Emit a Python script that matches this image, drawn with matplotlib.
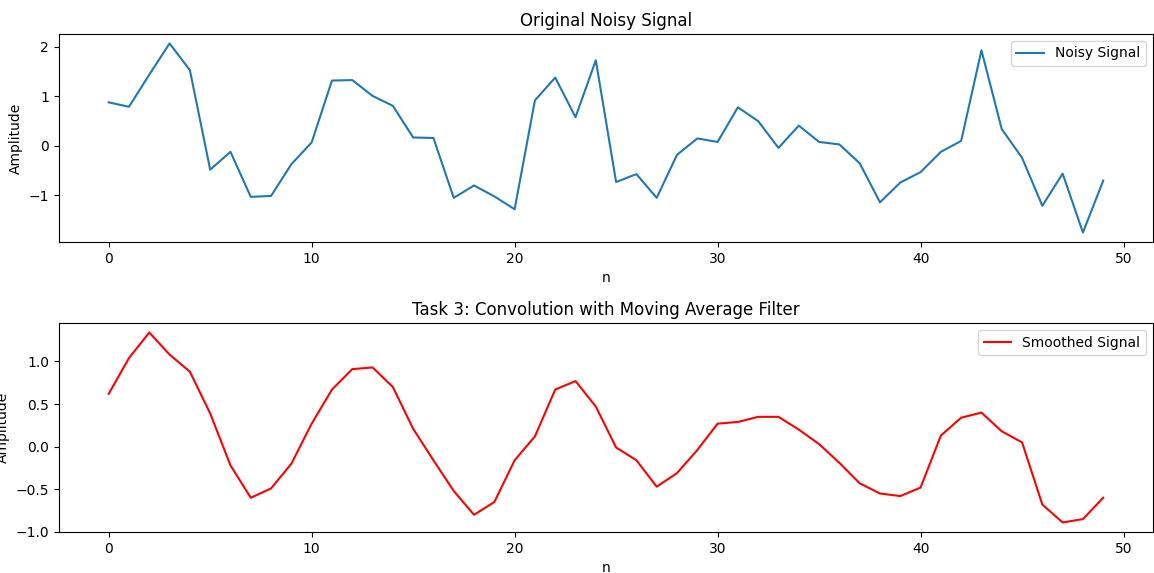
import numpy as np
import matplotlib
matplotlib.use("Agg")
import matplotlib.pyplot as plt

# ---- Data ----
noisy = [0.88, 0.79, 1.44, 2.07, 1.53, -0.48, -0.12, -1.03, -1.01, -0.37,
         0.07, 1.32, 1.33, 1.01, 0.81, 0.17, 0.16, -1.05, -0.80, -1.02,
         -1.28, 0.92, 1.38, 0.58, 1.73, -0.73, -0.57, -1.05, -0.18, 0.15,
         0.08, 0.78, 0.50, -0.04, 0.41, 0.08, 0.03, -0.35, -1.14, -0.74,
         -0.53, -0.12, 0.10, 1.93, 0.34, -0.24, -1.21, -0.56, -1.75, -0.70]

smoothed = [0.62, 1.04, 1.34, 1.08, 0.88, 0.39, -0.22, -0.60, -0.49, -0.20,
            0.27, 0.67, 0.91, 0.93, 0.70, 0.21, -0.16, -0.52, -0.80, -0.65,
            -0.16, 0.12, 0.67, 0.77, 0.47, -0.01, -0.16, -0.47, -0.31, -0.04,
            0.27, 0.29, 0.35, 0.35, 0.20, 0.03, -0.19, -0.43, -0.55, -0.58,
            -0.48, 0.13, 0.34, 0.40, 0.18, 0.05, -0.68, -0.89, -0.85, -0.60]

n = np.arange(len(noisy))

fig = plt.figure(figsize=(11.54, 5.73), dpi=100)
ax1 = fig.add_axes([0.0511, 0.5777, 0.9480, 0.3630])
ax2 = fig.add_axes([0.0511, 0.0716, 0.9480, 0.3647])

# ---- Original noisy signal ----
ax1.plot(n, noisy, color="#1f77b4", label="Noisy Signal")
ax1.set_title("Original Noisy Signal")
ax1.set_xlabel("n")
ax1.set_ylabel("Amplitude")
ax1.legend(loc="upper right")

# ---- Smoothed signal ----
ax2.plot(n, smoothed, color="red", label="Smoothed Signal")
ax2.set_title("Task 3: Convolution with Moving Average Filter")
ax2.set_xlabel("n")
ax2.set_ylabel("Amplitude")
ax2.legend(loc="upper right")

plt.savefig("out.png", dpi=100)
plt.close()
